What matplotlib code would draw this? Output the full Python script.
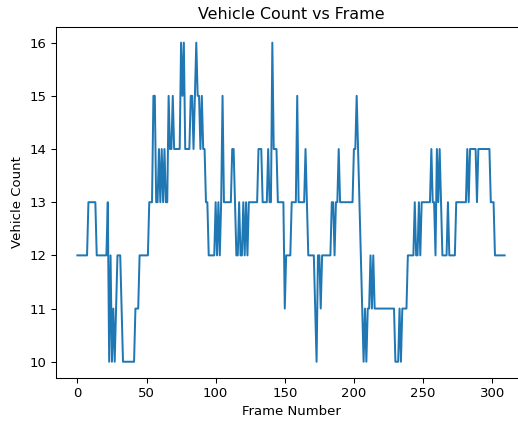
import matplotlib
matplotlib.use("Agg")
import matplotlib.pyplot as plt
import numpy as np

counts = [
    12,12,12,12,12,12,12,12,13,13,
    13,13,13,13,12,12,12,12,12,12,
    12,12,13,10,12,10,11,10,11,12,
    12,12,11,10,10,10,10,10,10,10,
    10,10,11,11,11,12,12,12,12,12,
    12,12,13,13,13,15,15,13,13,14,
    13,14,13,14,13,13,15,14,14,15,
    14,14,14,14,14,16,15,16,14,14,
    14,14,15,15,14,15,16,15,15,14,
    15,14,14,13,13,12,12,12,12,12,
    13,12,13,12,13,15,13,13,13,13,
    13,13,14,14,13,12,12,13,12,12,
    13,12,13,12,13,13,13,13,13,13,
    13,14,14,14,13,13,13,13,14,13,
    13,16,14,14,14,13,13,13,13,13,
    11,12,12,12,12,13,13,13,13,15,
    13,13,13,13,13,14,13,12,12,12,
    12,12,11,10,12,12,11,12,12,12,
    12,12,12,12,13,13,12,13,13,14,
    13,13,13,13,13,13,13,13,13,13,
    14,14,15,14,13,12,11,10,11,10,
    11,11,12,11,12,11,11,11,11,11,
    11,11,11,11,11,11,11,11,11,11,
    10,10,10,11,10,11,11,11,11,12,
    12,12,12,12,13,12,12,13,12,13,
    13,13,13,13,13,13,14,13,13,12,
    14,13,14,13,12,12,12,12,13,12,
    12,12,12,12,13,13,13,13,13,13,
    13,13,14,13,14,14,14,14,14,13,
    14,14,14,14,14,14,14,14,14,13,
    13,13,12,12,12,12,12,12,12,12,
]
frames = list(range(len(counts)))

title = "Vehicle Count vs Frame"
xlabel = "Frame Number"
ylabel = "Vehicle Count"

W, H, DPI = 518, 421, 95
fig = plt.figure(figsize=(W / DPI, H / DPI), dpi=DPI)
# axes extends past the right edge of the canvas (reference image is cropped there)
ax = fig.add_axes([56 / W, (H - 377.7) / H, 470 / W, 351 / H])
ax.plot(frames, counts, color="#1f77b4", linewidth=1.5)
ax.set_title(title)
ax.set_xlabel(xlabel)
ax.set_ylabel(ylabel)
ax.spines["right"].set_visible(False)
fig.savefig("out.png", dpi=DPI)
